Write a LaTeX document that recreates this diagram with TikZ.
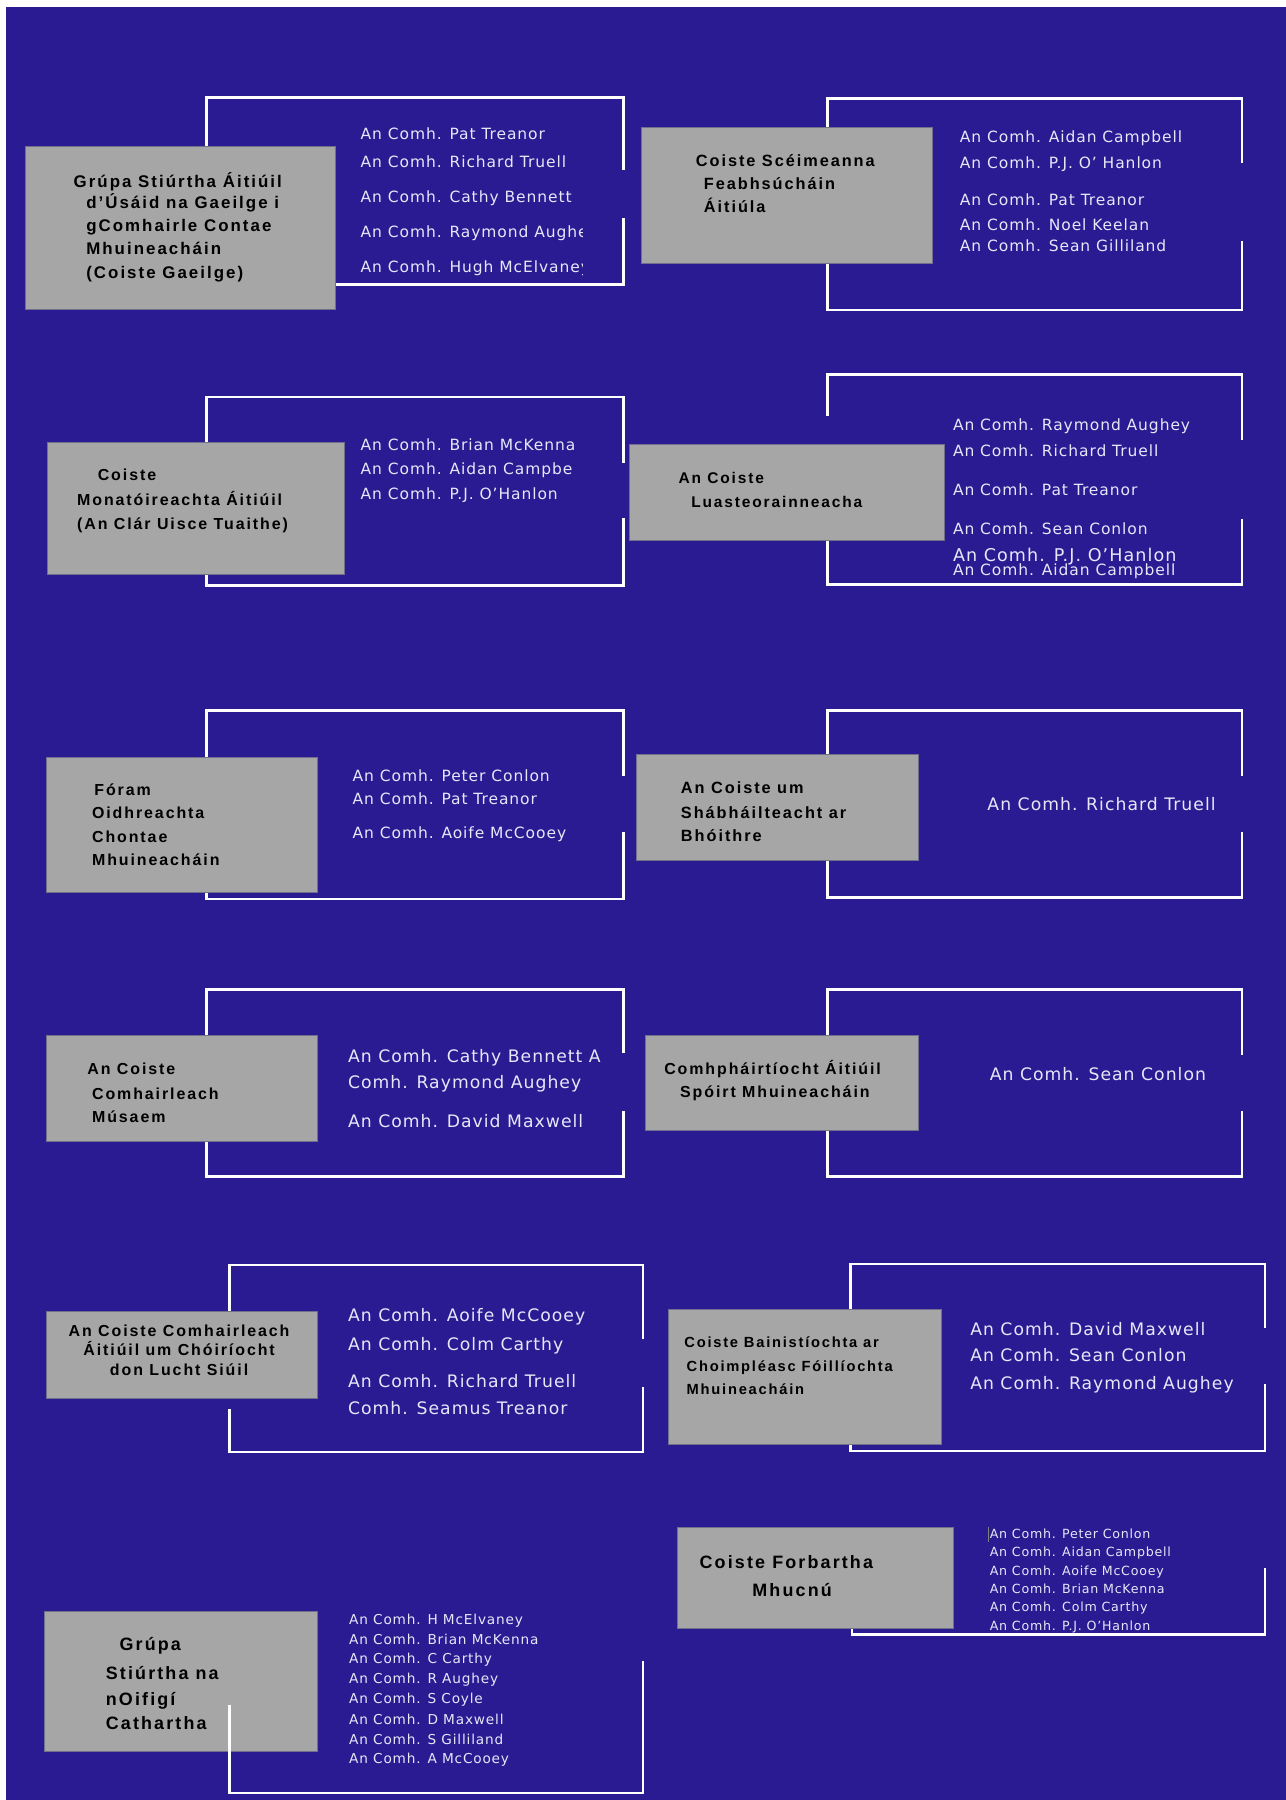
\documentclass[tikz,border=0pt]{standalone}
\usepackage{fontspec}
\setmainfont{DejaVu Sans}
\newfontfamily\memfont{DejaVu Sans}[LetterSpace=6]
\newfontfamily\ttlfont{Liberation Sans}[LetterSpace=12]
\definecolor{bgblue}{RGB}{42,27,146}
\definecolor{boxgrey}{RGB}{166,166,166}
\definecolor{boxedge}{RGB}{112,112,140}
\definecolor{memtxt}{RGB}{232,230,248}
\tikzset{
  frame/.style={draw=white, line width=2.2pt},
  gbox/.style={fill=boxgrey, draw=boxedge, line width=0.7pt, inner sep=0pt, anchor=north west},
  ttl/.style={anchor=west, inner sep=0pt, text=black, text height=10pt, text depth=0pt,
    font=\ttlfont\bfseries\fontsize{#1}{#1}\selectfont},
  ttl/.default=13.9,
  ttlc/.style={ttl=#1, anchor=center},
  ttlc/.default=13.9,
  mem/.style={anchor=west, inner sep=0pt, text=memtxt, text height=9.5pt, text depth=0pt,
    font=\memfont\fontsize{13.5}{16}\selectfont},
  memL/.style={mem, text height=10.5pt, font=\memfont\fontsize{15}{18}\selectfont},
  memP/.style={mem, text height=10.8pt, font=\memfont\fontsize{15.3}{18}\selectfont},
  memS/.style={mem, text height=8.5pt, font=\memfont\fontsize{11.9}{14}\selectfont},
  memXS/.style={mem, text height=8pt, font=\memfont\fontsize{11}{13}\selectfont},
}
\begin{document}
\begin{tikzpicture}[x=1pt,y=-1pt]
\useasboundingbox (0,0) rectangle (1120,1568);
\fill[white] (0,0) rectangle (1120,1568);
\fill[bgblue] (5,6) rectangle (1120,1568);

% ---------- frames ----------
% P1
\draw[frame] (543,148) -- (543,85) -- (180,85) -- (180,248) -- (543,248) -- (543,190);
% P2
\draw[frame] (1082,142) -- (1082,86) -- (721,86) -- (721,270) -- (1082,270) -- (1082,210);
% P3
\draw[frame] (543,403) -- (543,346) -- (180,346) -- (180,510) -- (543,510) -- (543,451);
% P4
\draw[frame] (721,362) -- (721,326) -- (1082,326) -- (1082,383);
\draw[frame] (1082,452) -- (1082,509) -- (721,509) -- (721,470);
% P5
\draw[frame] (543,676) -- (543,619) -- (180,619) -- (180,783) -- (543,783) -- (543,725);
% P6
\draw[frame] (1082,676) -- (1082,619) -- (721,619) -- (721,782) -- (1082,782) -- (1082,725);
% P7
\draw[frame] (543,917) -- (543,862) -- (180,862) -- (180,1025) -- (543,1025) -- (543,968);
% P8
\draw[frame] (1082,919) -- (1082,862) -- (721,862) -- (721,1025) -- (1082,1025) -- (1082,968);
% P9
\draw[frame] (560,1166) -- (560,1102) -- (200,1102) -- (200,1150);
\draw[frame] (200,1227) -- (200,1265) -- (560,1265) -- (560,1208);
% P10
\draw[frame] (1102,1157) -- (1102,1101) -- (741,1101) -- (741,1264) -- (1102,1264) -- (1102,1206);
% P12
\draw[frame] (742,1410) -- (742,1424) -- (1102,1424) -- (1102,1366);

% ---------- grey boxes ----------
\node[gbox, minimum width=270pt, minimum height=142pt] (b1) at (22,127) {};
\node[gbox, minimum width=254pt, minimum height=118pt] (b2) at (558,111) {};
\node[gbox, minimum width=259pt, minimum height=115pt] (b3) at (41,385) {};
\node[gbox, minimum width=274pt, minimum height=83pt] (b4) at (548,387) {};
\node[gbox, minimum width=236pt, minimum height=118pt] (b5) at (40,659) {};
\node[gbox, minimum width=246pt, minimum height=92pt] (b6) at (554,657) {};
\node[gbox, minimum width=236pt, minimum height=92pt] (b7) at (40,902) {};
\node[gbox, minimum width=238pt, minimum height=82pt] (b8) at (562,902) {};
\node[gbox, minimum width=236pt, minimum height=76pt] (b9) at (40,1142) {};
\node[gbox, minimum width=238pt, minimum height=118pt] (b10) at (582,1140) {};
\node[gbox, minimum width=238pt, minimum height=122pt] (b11) at (38,1403) {};
\node[gbox, minimum width=240pt, minimum height=88pt] (b12) at (590,1330) {};

% P11 frame (drawn over its box)
\draw[frame] (200,1485) -- (200,1562) -- (560,1562) -- (560,1447);

% ---------- titles ----------
\node[ttl=14.7] (t1a) at (64,158) {Grúpa Stiúrtha Áitiúil};
\node[ttl=14.7] (t1b) at (75,177) {d’Úsáid na Gaeilge i};
\node[ttl=14.7] (t1c) at (75,197) {gComhairle Contae};
\node[ttl=14.7] (t1d) at (75,217) {Mhuineacháin};
\node[ttl=14.7] (t1e) at (75,238) {(Coiste Gaeilge)};

\node[ttl=14.2] (t2a) at (606,140) {Coiste Scéimeanna};
\node[ttl=14.2] (t2b) at (613,160) {Feabhsúcháin};
\node[ttl=14.2] (t2c) at (613,180) {Áitiúla};

\node[ttl] (t3a) at (85,414) {Coiste};
\node[ttl] (t3b) at (67,435) {Monatóireachta Áitiúil};
\node[ttl] (t3c) at (67,456) {(An Clár Uisce Tuaithe)};

\node[ttl=13.5] (t4a) at (591,416) {An Coiste};
\node[ttl=13.5] (t4b) at (602,437) {Luasteorainneacha};

\node[ttl] (t5a) at (82,688) {Fóram};
\node[ttl] (t5b) at (80,708) {Oidhreachta};
\node[ttl] (t5c) at (80,729) {Chontae};
\node[ttl] (t5d) at (80,749) {Mhuineacháin};

\node[ttl=14.2] (t6a) at (593,686) {An Coiste um};
\node[ttl=14.2] (t6b) at (593,708) {Shábháilteacht ar};
\node[ttl=14.2] (t6c) at (593,728) {Bhóithre};

\node[ttl] (t7a) at (76,931) {An Coiste};
\node[ttl] (t7b) at (80,953) {Comhairleach};
\node[ttl] (t7c) at (80,973) {Músaem};

\node[ttlc] (t8a) at (673,931) {Comhpháirtíocht Áitiúil};
\node[ttlc] (t8b) at (675,951) {Spóirt Mhuineacháin};

\node[ttlc] (t9a) at (156,1159) {An Coiste Comhairleach};
\node[ttlc] (t9b) at (156,1176) {Áitiúil um Chóiríocht};
\node[ttlc] (t9c) at (156,1193) {don Lucht Siúil};

\node[ttl=12.8] (t10a) at (596,1169) {Coiste Bainistíochta ar};
\node[ttl=12.8] (t10b) at (598,1190) {Choimpléasc Fóillíochta};
\node[ttl=12.8] (t10c) at (598,1210) {Mhuineacháin};

\node[ttl=15.6] (t11a) at (104,1433) {Grúpa};
\node[ttl=15.6] (t11b) at (92,1458) {Stiúrtha na};
\node[ttl=15.6] (t11c) at (92,1481) {nOifigí};
\node[ttl=15.6] (t11d) at (92,1502) {Cathartha};

\node[ttlc=15.6] (t12a) at (685,1361) {Coiste Forbartha};
\node[ttlc=15.6] (t12b) at (690,1386) {Mhucnú};

% ---------- members ----------
\begin{scope}
\clip (300,100) rectangle (507,250);
\node[mem] (m1a) at (314,117) {An Comh. Pat Treanor};
\node[mem] (m1b) at (314,141) {An Comh. Richard Truell};
\node[mem] (m1c) at (314,172) {An Comh. Cathy Bennett};
\node[mem] (m1d) at (314,202) {An Comh. Raymond Aughey};
\node[mem] (m1e) at (314,233) {An Comh. Hugh McElvaney};
\end{scope}

\node[mem] (m2a) at (836,119) {An Comh. Aidan Campbell};
\node[mem] (m2b) at (836,142) {An Comh. P.J. O’ Hanlon};
\node[mem] (m2c) at (836,174) {An Comh. Pat Treanor};
\node[mem] (m2d) at (836,196) {An Comh. Noel Keelan};
\node[mem] (m2e) at (836,214) {An Comh. Sean Gilliland};

\node[mem] (m3a) at (314,388) {An Comh. Brian McKenna};
\begin{scope}
\clip (300,398) rectangle (498,420);
\node[mem] (m3b) at (314,409) {An Comh. Aidan Campbell};
\end{scope}
\node[mem] (m3c) at (314,430) {An Comh. P.J. O’Hanlon};

\node[mem] (m4a) at (830,370) {An Comh. Raymond Aughey};
\node[mem] (m4b) at (830,393) {An Comh. Richard Truell};
\node[mem] (m4c) at (830,427) {An Comh. Pat Treanor};
\node[mem] (m4d) at (830,461) {An Comh. Sean Conlon};
\node[memP] (m4e) at (830,484) {An Comh. P.J. O’Hanlon};
\node[mem] (m4f) at (830,497) {An Comh. Aidan Campbell};

\node[mem] (m5a) at (307,676) {An Comh. Peter Conlon};
\node[mem] (m5b) at (307,696) {An Comh. Pat Treanor};
\node[mem] (m5c) at (307,726) {An Comh. Aoife McCooey};

\node[memL] (m6a) at (860,701) {An Comh. Richard Truell};

\begin{scope}
\clip (290,908) rectangle (525,932);
\node[memL] (m7a) at (303,920) {An Comh. Cathy Bennett An};
\end{scope}
\node[memL] (m7b) at (303,943) {Comh. Raymond Aughey};
\node[memL] (m7c) at (303,977) {An Comh. David Maxwell};

\node[memL] (m8a) at (862,936) {An Comh. Sean Conlon};

\node[memL] (m9a) at (303,1146) {An Comh. Aoife McCooey};
\node[memL] (m9b) at (303,1171) {An Comh. Colm Carthy};
\node[memL] (m9c) at (303,1203) {An Comh. Richard Truell};
\node[memL] (m9d) at (303,1227) {Comh. Seamus Treanor};

\node[memL] (m10a) at (845,1158) {An Comh. David Maxwell};
\node[memL] (m10b) at (845,1181) {An Comh. Sean Conlon};
\node[memL] (m10c) at (845,1205) {An Comh. Raymond Aughey};

\node[memS] (m11a) at (304,1411) {An Comh. H McElvaney};
\node[memS] (m11b) at (304,1428) {An Comh. Brian McKenna};
\node[memS] (m11c) at (304,1445) {An Comh. C Carthy};
\node[memS] (m11d) at (304,1462) {An Comh. R Aughey};
\node[memS] (m11e) at (304,1480) {An Comh. S Coyle};
\node[memS] (m11f) at (304,1498) {An Comh. D Maxwell};
\node[memS] (m11g) at (304,1515) {An Comh. S Gilliland};
\node[memS] (m11h) at (304,1532) {An Comh. A McCooey};

\draw[gray, line width=0.6pt] (861,1330) -- (861,1343);
\node[memXS] (m12a) at (862,1336) {An Comh. Peter Conlon};
\node[memXS] (m12b) at (862,1352) {An Comh. Aidan Campbell};
\node[memXS] (m12c) at (862,1368) {An Comh. Aoife McCooey};
\node[memXS] (m12d) at (862,1384) {An Comh. Brian McKenna};
\node[memXS] (m12e) at (862,1400) {An Comh. Colm Carthy};
\node[memXS] (m12f) at (862,1416) {An Comh. P.J. O’Hanlon};
\end{tikzpicture}
\end{document}
